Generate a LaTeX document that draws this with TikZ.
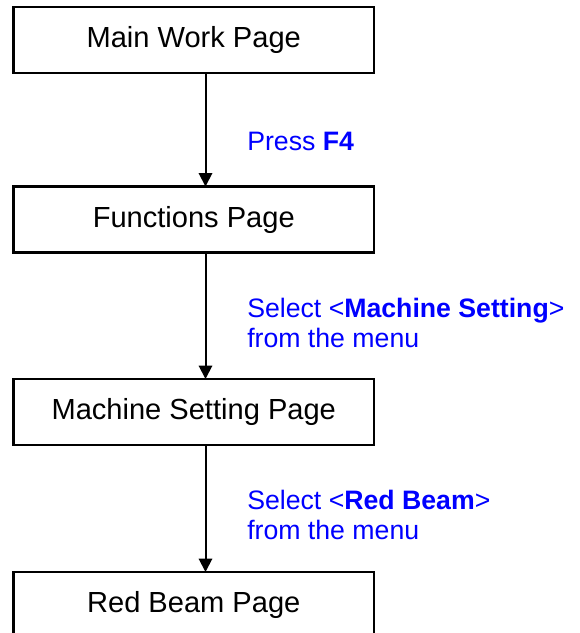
\documentclass[tikz,border=0pt]{standalone}
\usepackage{fontspec}
\setmainfont{Liberation Sans}
\usetikzlibrary{arrows.meta}
\definecolor{lblblue}{RGB}{0,0,255}
\begin{document}
\begin{tikzpicture}[x=0.75pt,y=-0.75pt,
  pagebox/.style={draw=black,line width=1.6pt,rectangle,minimum width=270.4pt,minimum height=49.5pt,inner sep=0pt,outer sep=0pt,font=\fontsize{21.8pt}{24pt}\selectfont},
  flow/.style={line width=1.5pt,-{Triangle[width=10pt,length=10pt]}},
  lbl/.style={text=lblblue,font=\fontsize{20pt}{22.5pt}\selectfont,align=left,inner sep=0pt,anchor=base west}]
\useasboundingbox (0,0) rectangle (580,633);
\node[pagebox] (main) at (193.75,40) {Main Work Page};
\node[pagebox] (func) at (193.75,219.5) {Functions Page};
\node[pagebox] (mach) at (193.75,412) {Machine Setting Page};
\node[pagebox] (red) at (193.75,605) {Red Beam Page};
\coordinate (ax) at (205.5,0);
\draw[flow] (main.south -| ax) -- (func.north -| ax);
\draw[flow] (func.south -| ax) -- (mach.north -| ax);
\draw[flow] (mach.south -| ax) -- (red.north -| ax);
\node[lbl] (l1) at (247,150) {Press \textbf{F4}};
\node[lbl] (l2) at (247,347) {Select <\textbf{Machine Setting}>\\from the menu};
\node[lbl] (l3) at (247,539) {Select <\textbf{Red Beam}>\\from the menu};
\end{tikzpicture}
\end{document}
